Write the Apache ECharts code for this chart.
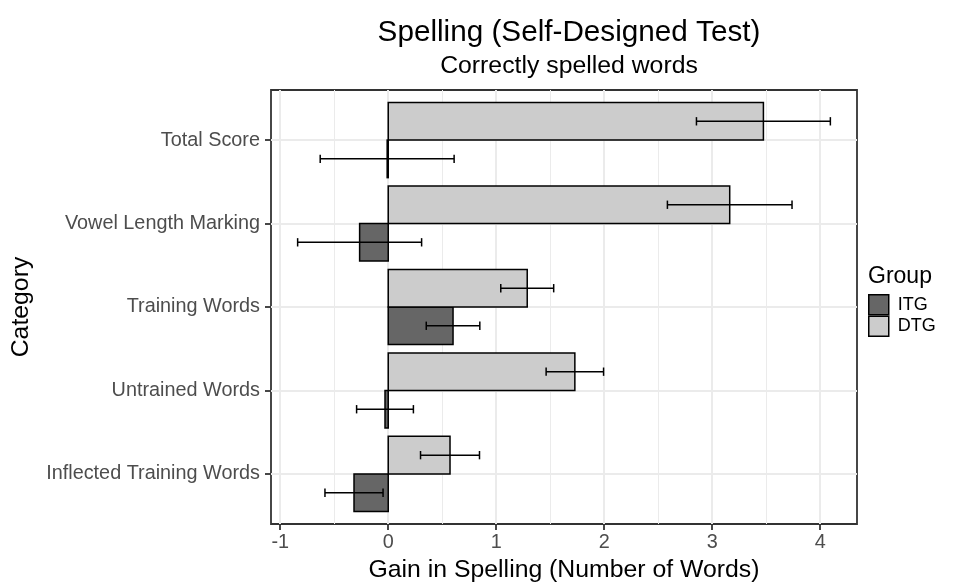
<!DOCTYPE html>
<html>
<head>
<meta charset="utf-8">
<script src="https://cdn.jsdelivr.net/npm/echarts@6/dist/echarts.min.js"></script>
<style>
  html, body { margin: 0; padding: 0; background: #fff; }
  #chart { width: 975px; height: 588px; }
</style>
</head>
<body>
<div id="chart"></div>
<script>
// Categories, top to bottom
const categories = [
  'Total Score',
  'Vowel Length Marking',
  'Training Words',
  'Untrained Words',
  'Inflected Training Words'
];

// Mean gain per category and its standard error, by group
const itgValues = [-0.01, -0.265, 0.60, -0.03, -0.317];
const itgErrors = [0.62, 0.574, 0.248, 0.263, 0.269];
const dtgValues = [3.474, 3.162, 1.287, 1.728, 0.572];
const dtgErrors = [0.62, 0.577, 0.245, 0.266, 0.273];

const groups = ['ITG', 'DTG'];
const xTicks = [-1, 0, 1, 2, 3, 4];
const xMinorTicks = [-0.5, 0.5, 1.5, 2.5, 3.5];

const FONT = 'Liberation Sans, Arial, Helvetica, sans-serif';
const BASE = 24.8;            // base text size
const SMALL = BASE * 0.8;     // tick labels
const BAR_H = 0.45;           // each bar takes half of a 0.9 dodge width
const CAP_H = 0.1;            // error-bar whisker height

// x range: error-bar extent with 5% padding on both sides
const lows = itgValues.map((v, i) => v - itgErrors[i]).concat(dtgValues.map((v, i) => v - dtgErrors[i]));
const highs = itgValues.map((v, i) => v + itgErrors[i]).concat(dtgValues.map((v, i) => v + dtgErrors[i]));
const lo = Math.min(0, ...lows), hi = Math.max(0, ...highs);
const pad = (hi - lo) * 0.05;
const X_MIN = lo - pad, X_MAX = hi + pad;

function seriesData(values, errors) {
  return values.map((v, i) => [v, i, errors[i]]);
}

function makeRender(offset) {
  return function (params, api) {
    const v = api.value(0), cat = api.value(1), se = api.value(2);
    const yc = cat + offset;
    const a = api.coord([0, yc - BAR_H / 2]);
    const b = api.coord([v, yc + BAR_H / 2]);
    const style = api.style();
    const e0 = api.coord([v - se, yc]);
    const e1 = api.coord([v + se, yc]);
    const c0 = api.coord([v, yc - CAP_H / 2]);
    const c1 = api.coord([v, yc + CAP_H / 2]);
    const lineStyle = { stroke: '#000', lineWidth: 1.5 };
    return {
      type: 'group',
      children: [
        {
          type: 'rect',
          shape: {
            x: Math.min(a[0], b[0]), y: Math.min(a[1], b[1]),
            width: Math.abs(b[0] - a[0]), height: Math.abs(b[1] - a[1])
          },
          style: { fill: style.fill, stroke: '#000', lineWidth: 1.5 }
        },
        { type: 'line', shape: { x1: e0[0], y1: e0[1], x2: e1[0], y2: e1[1] }, style: lineStyle },
        { type: 'line', shape: { x1: e0[0], y1: c0[1], x2: e0[0], y2: c1[1] }, style: lineStyle },
        { type: 'line', shape: { x1: e1[0], y1: c0[1], x2: e1[0], y2: c1[1] }, style: lineStyle }
      ]
    };
  };
}

const chart = echarts.init(document.getElementById('chart'), null, { renderer: 'canvas' });

chart.setOption({
  backgroundColor: '#fff',
  animation: false,
  textStyle: { fontFamily: FONT },
  title: [
    {
      text: 'Spelling (Self-Designed Test)',
      left: 564, top: 13, textAlign: 'center',
      textStyle: { fontFamily: FONT, fontSize: 29.7, fontWeight: 'normal', color: '#000' }
    },
    {
      text: 'Correctly spelled words',
      left: 564, top: 49, textAlign: 'center',
      textStyle: { fontFamily: FONT, fontSize: BASE, fontWeight: 'normal', color: '#000' }
    },
    {
      text: 'Group',
      left: 863, top: 260,
      textStyle: { fontFamily: FONT, fontSize: 23, fontWeight: 'normal', color: '#000' }
    }
  ],
  legend: {
    orient: 'vertical',
    left: 863, top: 289,
    padding: 5,
    itemWidth: 20, itemHeight: 20, itemGap: 0,
    icon: 'rect',
    selectedMode: false,
    textStyle: { fontFamily: FONT, fontSize: 18, color: '#000', padding: [0, 0, 0, 4] },
    data: [
      { name: 'ITG', itemStyle: { color: '#666666', borderColor: '#000', borderWidth: 1.5 } },
      { name: 'DTG', itemStyle: { color: '#cccccc', borderColor: '#000', borderWidth: 1.5 } }
    ]
  },
  grid: {
    left: 271, right: 118, top: 90, bottom: 62,
    show: true, borderColor: '#333333', borderWidth: 1.8, backgroundColor: 'transparent',
    containLabel: false
  },
  xAxis: [
    {
      type: 'value', min: X_MIN, max: X_MAX,
      axisLine: { show: false, onZero: false },
      axisTick: { show: true, customValues: xTicks, length: 6, lineStyle: { color: '#333333', width: 1.8 } },
      axisLabel: {
        customValues: xTicks, color: '#4d4d4d', fontSize: SMALL, fontFamily: FONT, margin: 9,
        formatter: v => String(v)
      },
      splitLine: { show: true, lineStyle: { color: '#ebebeb', width: 2 } },
      name: 'Gain in Spelling (Number of Words)',
      nameLocation: 'middle', nameGap: 34,
      nameTextStyle: { fontFamily: FONT, fontSize: BASE, color: '#000' }
    },
    {
      type: 'value', min: X_MIN, max: X_MAX,
      axisLine: { show: false, onZero: false },
      axisTick: { show: false, customValues: xMinorTicks },
      axisLabel: { show: false, customValues: xMinorTicks },
      splitLine: { show: true, lineStyle: { color: '#ebebeb', width: 1 } }
    }
  ],
  yAxis: {
    type: 'value', min: -0.6, max: 4.6, inverse: true,
    axisLine: { show: false, onZero: false },
    axisTick: { show: true, customValues: [0, 1, 2, 3, 4], length: 6, lineStyle: { color: '#333333', width: 1.8 } },
    axisLabel: {
      customValues: [0, 1, 2, 3, 4], color: '#4d4d4d', fontSize: SMALL, fontFamily: FONT, margin: 11,
      formatter: v => categories[Math.round(v)]
    },
    splitLine: { show: true, lineStyle: { color: '#ebebeb', width: 2 } },
    name: 'Category',
    nameLocation: 'middle', nameGap: 237, nameRotate: 90,
    nameTextStyle: { fontFamily: FONT, fontSize: BASE, color: '#000' }
  },
  series: [
    {
      name: groups[0], type: 'custom', xAxisIndex: 0, yAxisIndex: 0,
      itemStyle: { color: '#666666', borderColor: '#000' },
      encode: { x: 0, y: 1 },
      renderItem: makeRender(BAR_H / 2),
      data: seriesData(itgValues, itgErrors)
    },
    {
      name: groups[1], type: 'custom', xAxisIndex: 0, yAxisIndex: 0,
      itemStyle: { color: '#cccccc', borderColor: '#000' },
      encode: { x: 0, y: 1 },
      renderItem: makeRender(-BAR_H / 2),
      data: seriesData(dtgValues, dtgErrors)
    }
  ]
});
</script>
</body>
</html>
